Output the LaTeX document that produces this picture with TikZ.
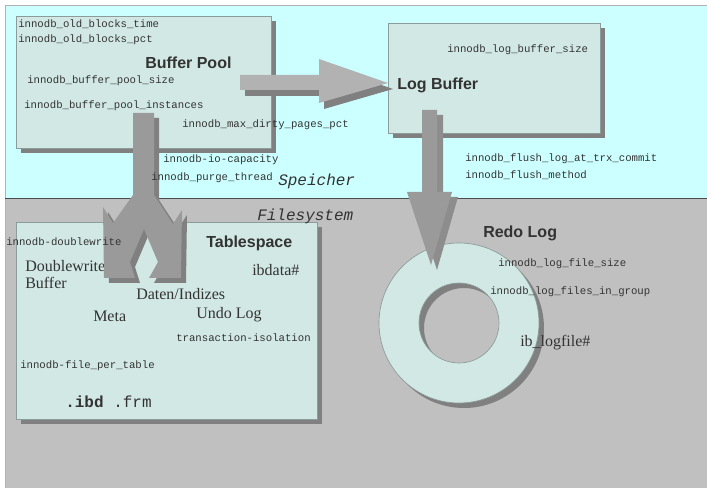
\documentclass[tikz,border=0pt]{standalone}
\usepackage{fontspec}
\setmainfont{Liberation Serif}
\setsansfont{Liberation Sans}
\setmonofont{Liberation Mono}
\usetikzlibrary{calc}
\definecolor{memcyan}{HTML}{CCFFFF}
\definecolor{fsgrey}{HTML}{C0C0C0}
\definecolor{boxfill}{HTML}{D1E8E5}
\definecolor{boxedge}{HTML}{8C9C9A}
\definecolor{shadowgrey}{HTML}{808080}
\definecolor{arrowlight}{HTML}{B2B2B2}
\definecolor{arrowmid}{HTML}{9A9A9A}
\definecolor{txtgrey}{HTML}{333333}
\def\shadowbox(#1)(#2){\fill[shadowgrey] ($(#1)+(5,5)$) rectangle ($(#2)+(5,5)$); \draw[fill=boxfill, draw=boxedge, line width=0.5pt] (#1) rectangle (#2);}

\begin{document}
\begin{tikzpicture}[x=0.75pt, y=-0.75pt,
	mono/.style={font=\fontsize{8}{9}\selectfont\ttfamily, text=txtgrey, anchor=west, inner sep=0pt},
	title/.style={font=\fontsize{12}{14}\selectfont\sffamily\bfseries, text=txtgrey, anchor=west, inner sep=0pt},
	serifnote/.style={font=\fontsize{12}{12.8}\selectfont\rmfamily, text=txtgrey, anchor=west, inner sep=0pt},
	zone/.style={font=\fontsize{12}{14}\selectfont\ttfamily\itshape, text=txtgrey, anchor=west, inner sep=0pt}]
			%%%%% START %%%%%
			\useasboundingbox (0, 0) rectangle (707, 488);
			\fill[white] (0, 0) rectangle (707, 488);
			
			\draw[fill=memcyan, draw=black!30, line width=0.6pt] (5, 5) rectangle (707, 198);
			\draw[fill=fsgrey, draw=black!30, line width=0.6pt] (5, 198) rectangle (707, 488);
			\draw[color=black!70, line width=0.6pt] (5, 198) -- (707, 198);
			
			% boxes
			\shadowbox(16, 16)(271, 148)
			\shadowbox(388, 23)(600, 133)
			\shadowbox(16, 222)(317, 419)
			
			% redo log ring
			\fill[shadowgrey, even odd rule] (464, 328) circle (80) (464, 328) circle (40);
			\draw[fill=boxfill, draw=boxedge, line width=0.5pt, even odd rule] (459, 323) circle (80) (459, 323) circle (40);
			
			\node[serifnote, align=left] (dwbuf) at (25, 274.5) {Doublewrite\\Buffer};
			
			% arrow buffer pool -> log buffer
			\fill[shadowgrey] (245, 81) -- (324, 81) -- (324, 65) -- (393, 89) -- (324, 109) -- (324, 96) -- (245, 96) -- cycle;
			\fill[arrowlight] (240, 75) -- (319, 75) -- (319, 59) -- (388, 83) -- (319, 103) -- (319, 90) -- (240, 90) -- cycle;
			
			% arrow log buffer -> redo log
			\fill[shadowgrey!90] (428, 115) -- (443, 115) -- (443, 197) -- (458, 197) -- (437, 270) -- (413, 197) -- (428, 197) -- cycle;
			\fill[arrowmid] (422, 110) -- (437, 110) -- (437, 192) -- (452, 192) -- (431, 265) -- (407, 192) -- (422, 192) -- cycle;
			
			% fork arrow buffer pool -> tablespace
			\fill[shadowgrey] (138, 118) -- (138, 200) -- (118, 228) -- (108, 212) -- (109, 283) -- (140, 283) -- (135, 267) -- (149, 234)
				-- (163, 267) -- (154, 283) -- (186, 283) -- (187, 215) -- (178, 229) -- (159, 200) -- (159, 118) -- cycle;
			\fill[arrowmid] (133, 113) -- (133, 195) -- (113, 223) -- (103, 207) -- (104, 278) -- (135, 278) -- (130, 262) -- (144, 229)
				-- (158, 262) -- (149, 278) -- (181, 278) -- (182, 210) -- (173, 224) -- (154, 195) -- (154, 113) -- cycle;
			
			% Speicher
			\node[mono] (oldtime) at (18, 24) {innodb\_old\_blocks\_time};
			\node[mono] (oldpct) at (18, 40) {innodb\_old\_blocks\_pct};
			\node[title] (bufpool) at (145, 63) {Buffer Pool};
			\node[mono] (poolsize) at (27, 81) {innodb\_buffer\_pool\_size};
			\node[mono] (poolinst) at (24, 106) {innodb\_buffer\_pool\_instances};
			\node[mono] (dirtypct) at (182, 125) {innodb\_max\_dirty\_pages\_pct};
			\node[mono] (iocap) at (163, 160) {innodb-io-capacity};
			\node[mono] (purge) at (151, 178) {innodb\_purge\_thread};
			\node[zone] (speicher) at (278, 181) {Speicher};
			
			\node[mono] (logbufsize) at (447, 50) {innodb\_log\_buffer\_size};
			\node[title] (logbuf) at (397, 85) {Log Buffer};
			\node[mono] (flushlog) at (465, 159) {innodb\_flush\_log\_at\_trx\_commit};
			\node[mono] (flushmeth) at (465, 175) {innodb\_flush\_method};
			
			% Filesystem
			\node[zone] (filesys) at (257, 216) {Filesystem};
			\node[mono] (dblwrite) at (6, 242) {innodb-doublewrite};
			\node[title] (tblspace) at (206, 243) {Tablespace};
			\node[serifnote] (ibdata) at (252, 270) {ibdata\#};
			\node[serifnote] (daten) at (136, 294) {Daten/Indizes};
			\node[serifnote] (meta) at (93, 316) {Meta};
			\node[serifnote] (undo) at (196, 315) {Undo Log};
			\node[mono] (isolation) at (176, 338) {transaction-isolation};
			\node[mono] (perfile) at (20, 366) {innodb-file\_per\_table};
			\node[font=\fontsize{12}{14}\selectfont\ttfamily, text=txtgrey, anchor=west, inner sep=0pt] (ibdfrm) at (65, 402) {\textbf{.ibd} .frm};
			
			\node[title] (redolog) at (483, 233) {Redo Log};
			\node[mono] (filesize) at (498, 264) {innodb\_log\_file\_size};
			\node[mono] (filesgrp) at (490, 292) {innodb\_log\_files\_in\_group};
			\node[serifnote] (logfile) at (520, 343) {ib\_logfile\#};
			%%%%% END %%%%%
		\end{tikzpicture}
\end{document}
